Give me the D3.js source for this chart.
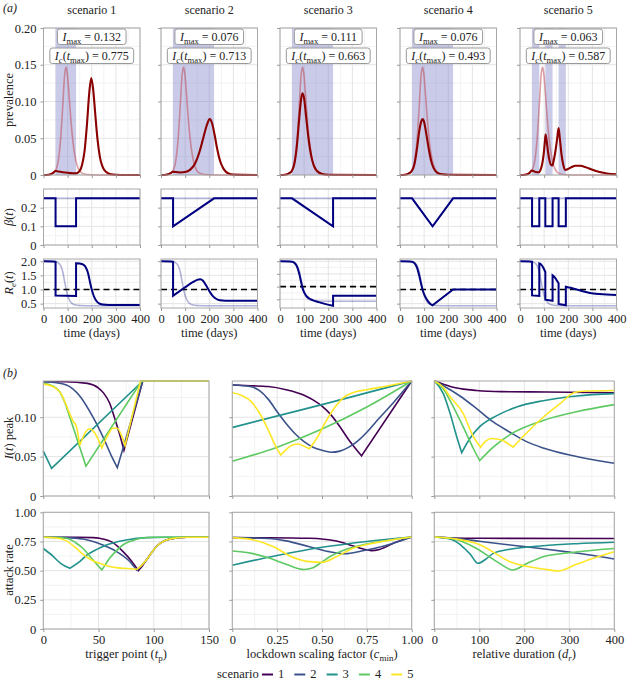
<!DOCTYPE html>
<html>
<head>
<meta charset="utf-8">
<script src="https://cdn.jsdelivr.net/npm/d3@7"></script>
<style>
  body { margin: 0; background: #fff; }
  text { font-family: "Liberation Serif", "DejaVu Serif", serif; fill: #222; }
</style>
</head>
<body>
<svg id="fig" width="627" height="680"></svg>
<script>
// ---------- data: panel (a) ----------
const scenarioTitles = ["scenario 1", "scenario 2", "scenario 3", "scenario 4", "scenario 5"];
const peakValues = ["0.132", "0.076", "0.111", "0.076", "0.063"];
const cumulativeValues = ["0.775", "0.713", "0.663", "0.493", "0.587"];
const lockdowns = [[[50, 135]], [[50, 220]], [[50, 220]], [[50, 220]], [[50, 80], [105, 135], [160, 190]]];
const timeTicks = [0, 100, 200, 300, 400];

// prevalence without intervention (light curve, same in every scenario)
const prevNone = [[0,0],[20,0.0003],[30,0.001],[40,0.0028],[50,0.0065],[60,0.017],[70,0.045],[80,0.095],[87,0.134],[93,0.147],[99,0.137],[106,0.108],[114,0.073],[124,0.04],[134,0.02],[145,0.008],[160,0.0025],[180,0.0007],[220,0.0001],[400,0]];
const prev1 = [[0,0],[20,0.0003],[30,0.001],[40,0.0028],[50,0.0055],[56,0.0052],[70,0.0043],[90,0.0033],[110,0.0026],[135,0.0022],[150,0.0055],[160,0.014],[170,0.032],[180,0.068],[190,0.113],[198,0.132],[206,0.116],[214,0.085],[224,0.048],[234,0.024],[245,0.011],[260,0.004],[280,0.001],[320,0.0001],[400,0]];
const prev2 = [[0,0],[20,0.0003],[30,0.001],[40,0.0025],[50,0.0045],[60,0.004],[80,0.0035],[100,0.004],[120,0.007],[140,0.015],[160,0.032],[175,0.05],[190,0.068],[202,0.076],[212,0.07],[222,0.055],[232,0.037],[245,0.019],[260,0.008],[280,0.002],[300,0.0005],[400,0]];
const prev3 = [[0,0],[20,0.0003],[30,0.001],[40,0.0028],[50,0.0062],[60,0.016],[70,0.04],[80,0.078],[87,0.102],[93,0.111],[100,0.104],[108,0.08],[118,0.05],[130,0.025],[140,0.013],[155,0.005],[175,0.0015],[200,0.0004],[400,0]];
const prev4 = [[0,0],[20,0.0003],[30,0.001],[40,0.0028],[50,0.006],[60,0.015],[70,0.035],[80,0.06],[88,0.073],[94,0.076],[100,0.072],[110,0.054],[120,0.034],[130,0.018],[140,0.009],[155,0.003],[175,0.001],[200,0.0003],[400,0]];
const prev5 = [[0,0],[20,0.0003],[30,0.001],[40,0.003],[48,0.0062],[55,0.0055],[65,0.0042],[78,0.0038],[85,0.007],[92,0.015],[98,0.028],[103,0.045],[106,0.055],[110,0.048],[116,0.032],[122,0.02],[128,0.014],[134,0.013],[140,0.02],[148,0.035],[155,0.052],[160,0.064],[165,0.05],[172,0.028],[180,0.013],[188,0.007],[195,0.0075],[210,0.01],[230,0.0125],[250,0.0125],[270,0.011],[300,0.007],[330,0.004],[360,0.002],[400,0.001]];

// transmission rate beta(t)
const betaNone = [[0,0.25],[400,0.25]];
const beta1 = [[0,0.25],[50,0.25],[50,0.1],[135,0.1],[135,0.25],[400,0.25]];
const beta2 = [[0,0.25],[50,0.25],[50,0.1],[220,0.25],[400,0.25]];
const beta3 = [[0,0.25],[50,0.25],[220,0.1],[220,0.25],[400,0.25]];
const beta4 = [[0,0.25],[50,0.25],[135,0.1],[220,0.25],[400,0.25]];
const beta5 = [[0,0.25],[50,0.25],[50,0.1],[80,0.1],[80,0.25],[105,0.25],[105,0.1],[135,0.1],[135,0.25],[160,0.25],[160,0.1],[190,0.1],[190,0.25],[400,0.25]];

// effective reproduction number, as smooth pieces between jumps
const reNone = [[[0,2.0],[40,1.99],[50,1.98],[60,1.95],[70,1.86],[80,1.62],[87,1.3],[94,1.0],[100,0.79],[108,0.62],[118,0.51],[130,0.46],[150,0.435],[200,0.425],[400,0.425]]];
const re1 = [[[0,2.0],[40,1.99],[50,1.98]],[[50,0.79],[135,0.77]],[[135,1.93],[150,1.92],[165,1.88],[175,1.79],[185,1.57],[193,1.25],[200,1.0],[208,0.78],[218,0.61],[230,0.51],[245,0.47],[270,0.455],[400,0.45]]];
const re2 = [[[0,2.0],[40,1.99],[50,1.98]],[[50,0.78],[70,0.9],[90,1.02],[110,1.14],[130,1.25],[150,1.34],[162,1.36],[175,1.3],[188,1.13],[198,0.98],[210,0.82],[222,0.71],[235,0.645],[255,0.61],[280,0.6],[400,0.6]]];
const re3 = [[[0,2.0],[40,1.99],[50,1.98],[60,1.93],[70,1.8],[80,1.5],[87,1.2],[93,0.95],[100,0.77],[110,0.62],[120,0.54],[135,0.47],[160,0.39],[190,0.31],[220,0.245]],[[220,0.64],[400,0.64]]];
const re4 = [[[0,2.0],[40,1.99],[50,1.98],[60,1.93],[70,1.78],[80,1.48],[88,1.18],[95,0.95],[105,0.74],[115,0.6],[125,0.5],[135,0.44]],[[135,0.44],[220,1.0]],[[220,1.0],[400,1.0]]];
const re5 = [[[0,2.0],[40,1.99],[50,1.98]],[[50,0.79],[80,0.77]],[[80,1.92],[88,1.88],[96,1.78],[105,1.62]],[[105,0.64],[135,0.6]],[[135,1.5],[145,1.42],[152,1.33],[160,1.22]],[[160,0.49],[190,0.44]],[[190,1.1],[210,1.06],[235,1.0],[260,0.94],[290,0.88],[330,0.84],[400,0.81]]];

// ---------- data: panel (b) ----------
const scenarioColors = ["#440154", "#3b528b", "#21918c", "#5ec962", "#fde725"];
const scenarioKeys = ["1", "2", "3", "4", "5"];

const peakByTrigger = [
  [[[0,0.145],[20,0.145],[40,0.143],[50,0.137],[55,0.130],[60,0.118],[65,0.097],[70,0.074],[73,0.058]],[[73,0.058],[90,0.146]],[[90,0.146],[150,0.146]]],
  [[[0,0.145],[10,0.144],[21,0.141],[33,0.127],[45,0.100],[54,0.075],[62,0.050],[67,0.036]],[[67,0.036],[90,0.146]],[[90,0.146],[150,0.146]]],
  [[[0,0.057],[7.5,0.035]],[[7.5,0.035],[90,0.146]],[[90,0.146],[150,0.146]]],
  [[[0,0.143],[8,0.140],[15,0.132],[20,0.117],[24,0.100],[28,0.083],[32,0.066],[38.6,0.038]],[[38.6,0.038],[89,0.146]],[[89,0.146],[150,0.146]]],
  [[[0,0.142],[10,0.138],[16,0.130],[20,0.118],[24,0.104],[27,0.095],[30,0.088],[33,0.064]],[[33,0.064],[37,0.078],[42,0.085],[47,0.079],[53,0.061]],[[53,0.061],[58,0.076],[63,0.086],[67,0.086],[71,0.076],[74,0.064]],[[74,0.064],[88,0.146]],[[88,0.146],[150,0.146]]]
];
const peakByScaling = [
  [[[0,0.141],[0.1,0.140],[0.2,0.139],[0.3,0.135],[0.4,0.128],[0.45,0.122],[0.5,0.114],[0.55,0.103],[0.6,0.088],[0.65,0.071],[0.72,0.051]],[[0.72,0.051],[1.0,0.146]]],
  [[[0,0.141],[0.1,0.139],[0.15,0.134],[0.2,0.123],[0.25,0.107],[0.3,0.092],[0.35,0.079],[0.4,0.069],[0.45,0.062],[0.5,0.058],[0.55,0.0555],[0.6,0.057],[0.65,0.062],[0.7,0.070],[0.75,0.081],[0.8,0.094],[0.9,0.119],[1.0,0.146]]],
  [[[0,0.087],[0.5,0.116],[1.0,0.146]]],
  [[[0,0.044],[0.25,0.062],[0.5,0.085],[0.75,0.113],[1.0,0.146]]],
  [[[0,0.131],[0.05,0.128],[0.1,0.121],[0.15,0.106],[0.2,0.084],[0.24,0.064],[0.27,0.052]],[[0.27,0.052],[0.3,0.059],[0.34,0.065],[0.37,0.066],[0.4,0.063],[0.43,0.060]],[[0.43,0.060],[0.47,0.073],[0.52,0.094],[0.57,0.112],[0.62,0.125],[0.67,0.131],[0.75,0.135],[0.85,0.139],[1.0,0.146]]]
];
const peakByDuration = [
  [[[0,0.146],[20,0.142],[50,0.137],[94,0.134],[150,0.1325],[250,0.132],[400,0.131]]],
  [[[0,0.146],[20,0.140],[57,0.127],[94,0.111],[131,0.094],[168,0.081],[205,0.069],[242,0.061],[301,0.052],[353,0.046],[400,0.0415]]],
  [[[0,0.146],[20,0.130],[35,0.105],[50,0.075],[61,0.055]],[[61,0.055],[79,0.073],[101,0.088],[139,0.102],[183,0.113],[242,0.121],[316,0.127],[400,0.130]]],
  [[[0,0.146],[20,0.136],[35,0.121],[64,0.088],[87,0.060],[101,0.045]],[[101,0.045],[131,0.062],[168,0.078],[242,0.096],[316,0.107],[400,0.116]]],
  [[[0,0.146],[20,0.138],[35,0.126],[64,0.105],[87,0.075],[103,0.062]],[[103,0.062],[115,0.07],[127,0.073],[150,0.071],[165,0.066],[175,0.062]],[[175,0.062],[205,0.080],[242,0.100],[279,0.117],[310,0.131],[330,0.133],[400,0.134]]]
];
const attackByTrigger = [
  [[[0,0.786],[30,0.786],[45,0.783],[51,0.777],[63,0.74],[72,0.665],[80,0.58],[86,0.5]],[[86,0.5],[90,0.545],[94,0.6],[100,0.68],[106,0.735],[115,0.772],[130,0.786],[150,0.786]]],
  [[[0,0.786],[20,0.783],[36,0.771],[51,0.73],[66,0.665],[78,0.58],[84.5,0.505]],[[84.5,0.505],[89,0.545],[94,0.6],[100,0.68],[106,0.735],[115,0.772],[130,0.786],[150,0.786]]],
  [[[0,0.69],[8,0.63],[16,0.56],[24,0.52]],[[24,0.52],[32,0.57],[39,0.63],[48,0.68],[57,0.72],[66,0.745],[75,0.763],[94,0.783],[110,0.786],[150,0.786]]],
  [[[0,0.786],[10,0.785],[21,0.777],[30,0.735],[36,0.69],[45,0.591],[53,0.506]],[[53,0.506],[56,0.55],[60,0.606],[66,0.67],[72,0.72],[80,0.755],[88,0.777],[100,0.786],[150,0.786]]],
  [[[0,0.786],[10,0.782],[21,0.755],[30,0.69],[36,0.64],[45,0.585],[51,0.563],[60,0.535],[66,0.526],[75,0.518],[82,0.514],[85,0.512]],[[85,0.512],[89,0.545],[94,0.6],[100,0.68],[106,0.735],[115,0.772],[130,0.786],[150,0.786]]]
];
const attackByScaling = [
  [[[0,0.783],[0.2,0.782],[0.43,0.777],[0.58,0.754],[0.67,0.714],[0.73,0.686],[0.775,0.672],[0.82,0.682],[0.91,0.743],[1.0,0.789]]],
  [[[0,0.783],[0.2,0.775],[0.3,0.755],[0.43,0.705],[0.54,0.663],[0.63,0.645],[0.72,0.668],[0.83,0.705],[1.0,0.789]]],
  [[[0,0.547],[0.25,0.63],[0.5,0.70],[0.75,0.75],[1.0,0.789]]],
  [[[0,0.668],[0.1,0.65],[0.2,0.61],[0.3,0.555],[0.4,0.51],[0.45,0.525],[0.5,0.575],[0.55,0.625],[0.62,0.675],[0.7,0.71],[0.8,0.743],[1.0,0.789]]],
  [[[0,0.783],[0.12,0.763],[0.23,0.705],[0.33,0.62],[0.43,0.577],[0.5,0.571],[0.58,0.62],[0.67,0.69],[0.8,0.74],[1.0,0.789]]]
];
const attackByDuration = [
  [[[0,0.788],[40,0.78],[100,0.777],[400,0.776]]],
  [[[0,0.788],[50,0.775],[100,0.752],[150,0.728],[200,0.706],[250,0.684],[300,0.659],[350,0.632],[400,0.60]]],
  [[[0,0.788],[40,0.765],[60,0.715],[80,0.64],[97,0.563],[115,0.6],[131,0.648],[168,0.683],[242,0.714],[316,0.731],[400,0.743]]],
  [[[0,0.788],[40,0.775],[94,0.69],[139,0.577],[175,0.506],[205,0.56],[242,0.62],[301,0.654],[400,0.69]]],
  [[[0,0.788],[50,0.77],[100,0.725],[168,0.577],[242,0.514],[275,0.497],[316,0.554],[353,0.606],[400,0.663]]]
];

// ---------- drawing ----------
const svg = d3.select("#fig");
const fs = "12px";

function rich(sel, parts) {
  let shift = 0;
  parts.forEach(p => {
    const ts = sel.append("tspan").text(p.t);
    const want = p.sub ? 3 : 0;
    if (want !== shift) { ts.attr("dy", want - shift); shift = want; }
    if (p.sub) ts.attr("font-size", "0.72em");
    if (p.it) ts.attr("font-style", "italic");
  });
  return sel;
}

function segPath(segs, x, y, curve) {
  const line = d3.line().x(d => x(d[0])).y(d => y(d[1])).curve(curve || d3.curveMonotoneX);
  return segs.map((s, i) => { const p = line(s); return i ? "L" + p.slice(1) : p; }).join("");
}

function mids(ticks) {
  const out = [];
  for (let i = 0; i < ticks.length - 1; i++) out.push((ticks[i] + ticks[i + 1]) / 2);
  return out;
}

// set up one axes box with grid; returns scales
function panel(left, width, top, bottom, xDomain, yDomain, xTicks, yTicks) {
  const x = d3.scaleLinear().domain(xDomain).range([left, left + width]);
  const y = d3.scaleLinear().domain(yDomain).range([bottom, top]);
  const g = svg.append("g");
  const yT = yTicks.filter(v => v >= yDomain[0] && v <= yDomain[1]);
  const yMinor = mids(yTicks).filter(v => v >= yDomain[0] && v <= yDomain[1]);
  g.selectAll(".vmin").data(mids(xTicks)).join("line")
    .attr("x1", d => x(d)).attr("x2", d => x(d)).attr("y1", top).attr("y2", bottom)
    .attr("stroke", "#f2f2f2");
  g.selectAll(".hmin").data(yMinor).join("line")
    .attr("x1", left).attr("x2", left + width).attr("y1", d => y(d)).attr("y2", d => y(d))
    .attr("stroke", "#f2f2f2");
  g.selectAll(".vmaj").data(xTicks).join("line")
    .attr("x1", d => x(d)).attr("x2", d => x(d)).attr("y1", top).attr("y2", bottom)
    .attr("stroke", "#e4e4e4");
  g.selectAll(".hmaj").data(yT).join("line")
    .attr("x1", left).attr("x2", left + width).attr("y1", d => y(d)).attr("y2", d => y(d))
    .attr("stroke", "#e4e4e4");
  return { g, x, y, left, width, top, bottom, xTicks, yTicks: yT };
}

function finish(p, xFmt, yFmt) {
  p.g.append("rect").attr("x", p.left).attr("y", p.top)
    .attr("width", p.width).attr("height", p.bottom - p.top)
    .attr("fill", "none").attr("stroke", "#a8a8a8").attr("stroke-width", 1);
  const ax = p.g.append("g").attr("transform", `translate(0,${p.bottom})`)
    .call(d3.axisBottom(p.x).tickValues(p.xTicks).tickSize(3).tickPadding(3)
      .tickFormat(xFmt || (() => "")));
  const ay = p.g.append("g").attr("transform", `translate(${p.left},0)`)
    .call(d3.axisLeft(p.y).tickValues(p.yTicks).tickSize(3).tickPadding(4)
      .tickFormat(yFmt || (() => "")));
  [ax, ay].forEach(a => {
    a.select(".domain").remove();
    a.selectAll(".tick line").attr("stroke", "#9a9a9a");
    a.selectAll(".tick text").attr("fill", "#222").style("font-size", "12.5px")
      .style("font-family", '"Liberation Serif","DejaVu Serif",serif');
  });
}

function yLabel(cy, parts) {
  const t = svg.append("text").attr("transform", `translate(13,${cy}) rotate(-90)`)
    .attr("text-anchor", "middle").style("font-size", "12.5px");
  rich(t, parts);
}

// ----- panel (a) -----
const aLefts = [43.5, 161, 280, 400, 520];
const aWidth = 96.5;
const prevRows = [prev1, prev2, prev3, prev4, prev5];
const betaRows = [beta1, beta2, beta3, beta4, beta5];
const reRows = [re1, re2, re3, re4, re5];
const navy = "#000080";

svg.append("text").attr("x", 3).attr("y", 12).style("font-size", fs).attr("font-style", "italic").text("(a)");

scenarioTitles.forEach((title, i) => {
  const left = aLefts[i];
  const cx = left + aWidth / 2;
  svg.append("text").attr("x", cx).attr("y", 14).attr("text-anchor", "middle")
    .style("font-size", fs).text(title);

  // prevalence
  const p = panel(left, aWidth, 28, 175, [0, 400], [0, 0.2], timeTicks, [0, 0.05, 0.10, 0.15, 0.20]);
  p.g.selectAll(".shade").data(lockdowns[i]).join("rect")
    .attr("x", d => p.x(d[0])).attr("width", d => p.x(d[1]) - p.x(d[0]))
    .attr("y", p.top).attr("height", p.bottom - p.top)
    .attr("fill", "#7474c4").attr("fill-opacity", 0.38);
  p.g.append("path").attr("d", segPath([prevNone], p.x, p.y))
    .attr("fill", "none").attr("stroke", "#c0505a").attr("stroke-opacity", 0.55).attr("stroke-width", 1.6);
  p.g.append("path").attr("d", segPath([prevRows[i]], p.x, p.y))
    .attr("fill", "none").attr("stroke", "#8b0000").attr("stroke-width", 2.1);
  finish(p, null, i === 0 ? (d => d === 0 ? "0" : d3.format(".2f")(d)) : null);

  // text boxes
  const boxes = [
    { y: 40.5, parts: [{ t: "I", it: true }, { t: "max", sub: true }, { t: " = " + peakValues[i] }] },
    { y: 59.5, parts: [{ t: "I", it: true }, { t: "c", sub: true, it: true }, { t: "(" }, { t: "t", it: true },
      { t: "max", sub: true }, { t: ")" }, { t: " = " + cumulativeValues[i] }] }
  ];
  boxes.forEach(b => {
    const bg = svg.append("g");
    const rect = bg.append("rect");
    const t = bg.append("text").attr("x", cx).attr("y", b.y).attr("text-anchor", "middle").style("font-size", "12px");
    rich(t, b.parts);
    const w = t.node().getComputedTextLength() + 10;
    rect.attr("x", cx - w / 2).attr("y", b.y - 11.5).attr("width", w).attr("height", 15.5)
      .attr("rx", 2.5).attr("fill", "#fff").attr("stroke", "#999").attr("stroke-width", 1);
  });

  // beta(t)
  const pb = panel(left, aWidth, 189, 245, [0, 400], [0, 0.3], timeTicks, [0, 0.1, 0.2]);
  pb.g.append("path").attr("d", segPath([betaNone], pb.x, pb.y, d3.curveLinear))
    .attr("fill", "none").attr("stroke", navy).attr("stroke-opacity", 0.3).attr("stroke-width", 1.6);
  pb.g.append("path").attr("d", segPath([betaRows[i]], pb.x, pb.y, d3.curveLinear))
    .attr("fill", "none").attr("stroke", navy).attr("stroke-width", 2);
  finish(pb, null, i === 0 ? (d => d === 0 ? "0" : d3.format(".1f")(d)) : null);

  // Re(t)
  const all = reNone.concat(reRows[i]).flat().map(d => d[1]);
  const lo = d3.min(all), hi = d3.max(all), pad = 0.05 * (hi - lo);
  const pr = panel(left, aWidth, 259, 308, [0, 400], [lo - pad, hi + pad], timeTicks, [0.5, 1.0, 1.5, 2.0]);
  pr.g.append("path").attr("d", segPath(reNone, pr.x, pr.y))
    .attr("fill", "none").attr("stroke", navy).attr("stroke-opacity", 0.3).attr("stroke-width", 1.6);
  pr.g.append("line").attr("x1", pr.x(0)).attr("x2", pr.x(400)).attr("y1", pr.y(1)).attr("y2", pr.y(1))
    .attr("stroke", "#000").attr("stroke-width", 1.6).attr("stroke-dasharray", "6,4");
  pr.g.append("path").attr("d", segPath(reRows[i], pr.x, pr.y))
    .attr("fill", "none").attr("stroke", navy).attr("stroke-width", 2);
  finish(pr, d => d, i === 0 ? d3.format(".1f") : null);

  svg.append("text").attr("x", cx).attr("y", 337).attr("text-anchor", "middle")
    .style("font-size", "12.5px").text("time (days)");
});

yLabel(100, [{ t: "prevalence" }]);
yLabel(217, [{ t: "β", it: true }, { t: "(" }, { t: "t", it: true }, { t: ")" }]);
yLabel(283, [{ t: "R", it: true }, { t: "e", sub: true, it: true }, { t: "(" }, { t: "t", it: true }, { t: ")" }]);

// ----- panel (b) -----
svg.append("text").attr("x", 3).attr("y", 377).style("font-size", fs).attr("font-style", "italic").text("(b)");

const bLefts = [43.3, 232.3, 434.3];
const bWidths = [165.7, 179.4, 180];
const bDomains = [[0, 150], [0, 1], [0, 400]];
const bTicks = [[0, 50, 100, 150], [0, 0.25, 0.5, 0.75, 1], [0, 100, 200, 300, 400]];
const bFormats = [d => d, d => d === 0 ? "0" : d3.format(".2f")(d), d => d];
const peakSets = [peakByTrigger, peakByScaling, peakByDuration];
const attackSets = [attackByTrigger, attackByScaling, attackByDuration];
const bXLabels = [
  [{ t: "trigger point (" }, { t: "t", it: true }, { t: "p", sub: true }, { t: ")" }],
  [{ t: "lockdown scaling factor (" }, { t: "c", it: true }, { t: "min", sub: true }, { t: ")" }],
  [{ t: "relative duration (" }, { t: "d", it: true }, { t: "r", sub: true, it: true }, { t: ")" }]
];

bLefts.forEach((left, c) => {
  const w = bWidths[c];
  const pt = panel(left, w, 381, 496, bDomains[c], [0, 0.146], bTicks[c], [0, 0.05, 0.10, 0.15]);
  peakSets[c].forEach((segs, k) => {
    pt.g.append("path").attr("d", segPath(segs, pt.x, pt.y))
      .attr("fill", "none").attr("stroke", scenarioColors[k]).attr("stroke-width", 1.6);
  });
  finish(pt, null, c === 0 ? (d => d === 0 ? "0" : d3.format(".2f")(d)) : null);

  const pa = panel(left, w, 512.3, 629, bDomains[c], [0, 1], bTicks[c], [0, 0.25, 0.5, 0.75, 1]);
  attackSets[c].forEach((segs, k) => {
    pa.g.append("path").attr("d", segPath(segs, pa.x, pa.y))
      .attr("fill", "none").attr("stroke", scenarioColors[k]).attr("stroke-width", 1.6);
  });
  finish(pa, bFormats[c], c === 0 ? (d => d === 0 ? "0" : d3.format(".2f")(d)) : null);

  const t = svg.append("text").attr("x", left + w / 2).attr("y", 658).attr("text-anchor", "middle").style("font-size", "12.5px");
  rich(t, bXLabels[c]);
});

yLabel(438, [{ t: "I", it: true }, { t: "(" }, { t: "t", it: true }, { t: ") peak" }]);
yLabel(570, [{ t: "attack rate" }]);

// legend
const lg = svg.append("g");
lg.append("text").attr("x", 217).attr("y", 678).style("font-size", "12.5px").text("scenario");
scenarioKeys.forEach((k, i) => {
  const lx = 262 + i * 32.3;
  lg.append("line").attr("x1", lx).attr("x2", lx + 11).attr("y1", 674.5).attr("y2", 674.5)
    .attr("stroke", scenarioColors[i]).attr("stroke-width", 2);
  lg.append("text").attr("x", lx + 16).attr("y", 678).style("font-size", "12.5px").text(k);
});
</script>
</body>
</html>
